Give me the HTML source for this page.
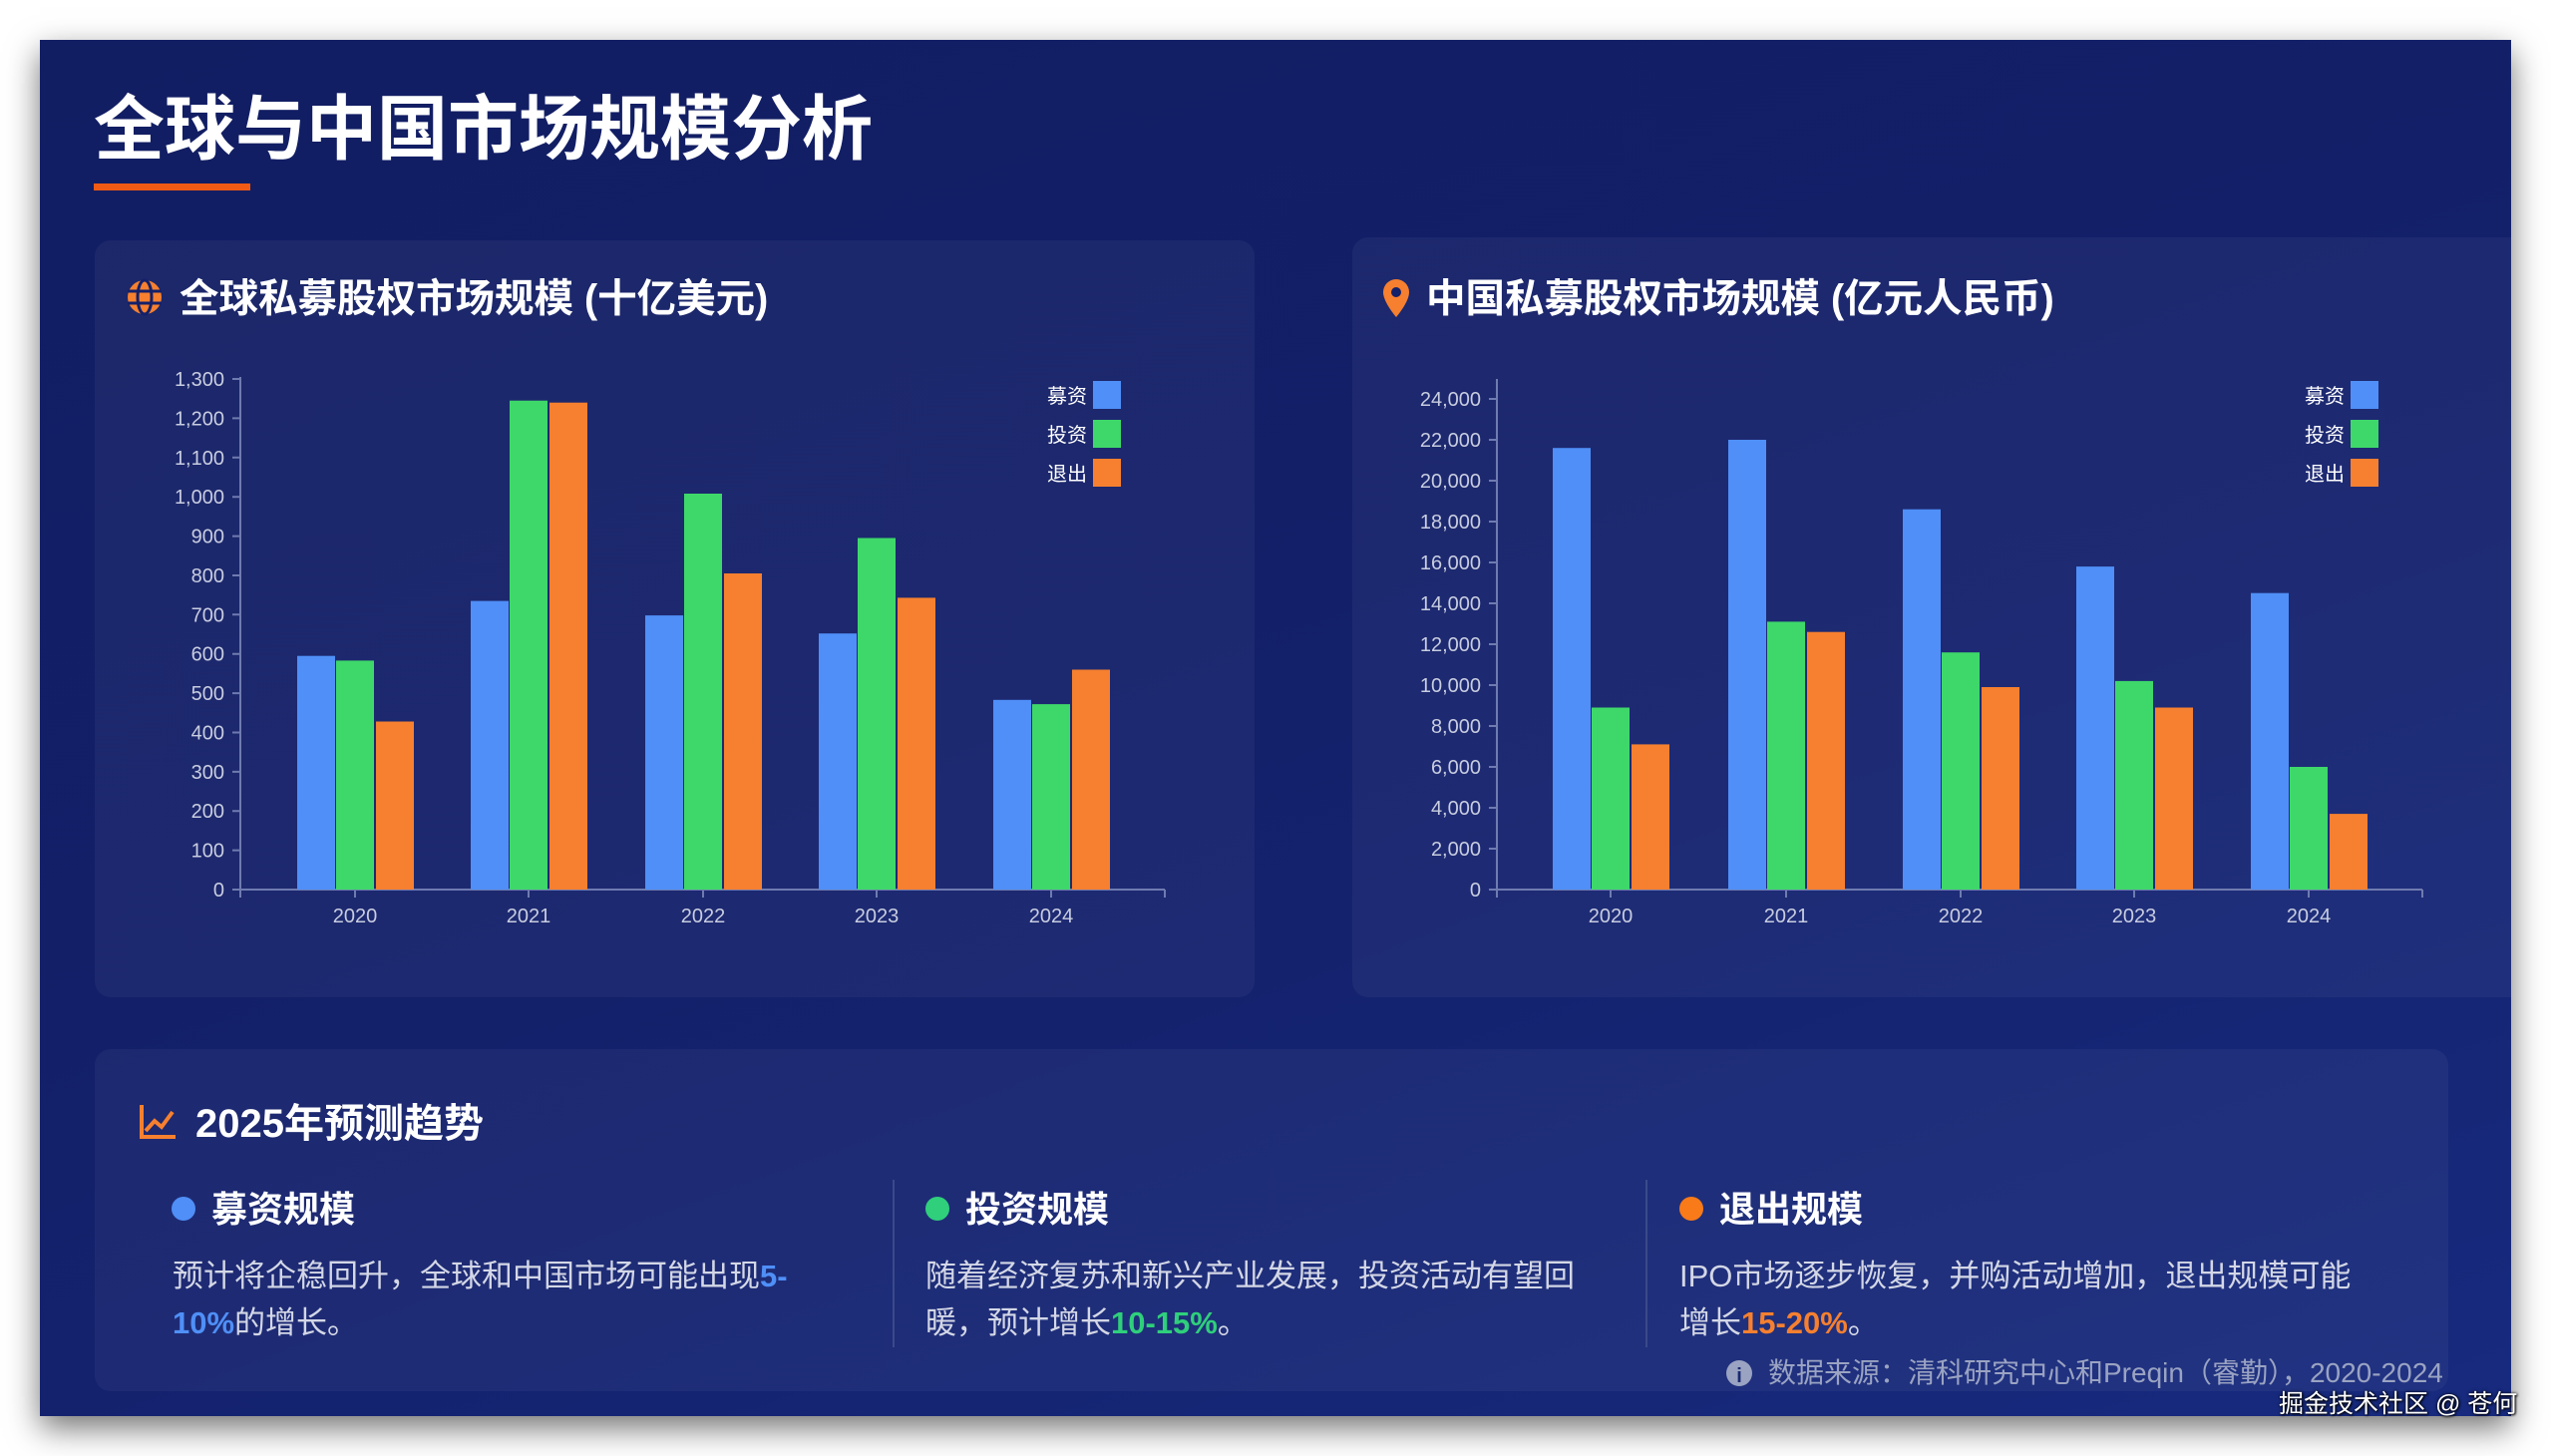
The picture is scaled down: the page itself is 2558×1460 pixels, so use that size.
<!DOCTYPE html>
<html><head><meta charset="utf-8">
<style>
html,body{margin:0;padding:0;width:2558px;height:1460px;background:#fff;overflow:hidden;}
body{font-family:"Liberation Sans","Noto Sans CJK SC",sans-serif;position:relative;}
.slide{position:absolute;left:40px;top:40px;width:2478px;height:1380px;background:linear-gradient(160deg,#121e62 0%,#13206a 50%,#172a7e 100%);box-shadow:0 12px 30px rgba(0,0,0,0.55);overflow:hidden;}
.card{position:absolute;background:rgba(255,255,255,0.045);border-radius:16px;}
.t{position:absolute;white-space:nowrap;color:#fff;font-weight:bold;}
.body{position:absolute;color:#d3d7e6;font-size:31px;line-height:47px;}
</style></head><body>
<div class="slide">
  <div class="card" style="left:55px;top:201px;width:1163px;height:759px;"></div>
  <div class="card" style="left:1316px;top:198px;width:1200px;height:762px;"></div>
  <div class="card" style="left:55px;top:1012px;width:2360px;height:343px;"></div>
</div>
<div class="t" style="left:94px;top:90px;font-size:71px;line-height:82px;">全球与中国市场规模分析</div>
<div style="position:absolute;left:94px;top:184px;width:157px;height:7px;background:#f05a14;"></div>

<div class="t" style="left:180px;top:277px;font-size:39.5px;line-height:46px;">全球私募股权市场规模 (十亿美元)</div>
<div class="t" style="left:1430px;top:277px;font-size:39.5px;line-height:46px;">中国私募股权市场规模 (亿元人民币)</div>
<div class="t" style="left:196px;top:1104px;font-size:40px;line-height:46px;">2025年预测趋势</div>

<div class="t" style="left:212px;top:1191px;font-size:36px;line-height:44px;">募资规模</div>
<div class="t" style="left:968px;top:1191px;font-size:36px;line-height:44px;">投资规模</div>
<div class="t" style="left:1724px;top:1191px;font-size:36px;line-height:44px;">退出规模</div>
<div class="body" style="left:173px;top:1256px;width:680px;">预计将企稳回升，全球和中国市场可能出现<span style="color:#4f8ff7;font-weight:bold">5-<br>10%</span>的增长。</div>
<div class="body" style="left:928px;top:1256px;width:700px;">随着经济复苏和新兴产业发展，投资活动有望回<br>暖，预计增长<span style="color:#2fcf7b;font-weight:bold">10-15%</span>。</div>
<div class="body" style="left:1684px;top:1256px;width:720px;">IPO市场逐步恢复，并购活动增加，退出规模可能<br>增长<span style="color:#f6802f;font-weight:bold">15-20%</span>。</div>
<div style="position:absolute;left:1773px;top:1360px;color:#9aa3c2;font-size:28px;line-height:34px;white-space:nowrap;">数据来源：清科研究中心和Preqin（睿勤），2020-2024</div>
<div style="position:absolute;left:2285px;top:1393px;color:#fff;font-size:25px;line-height:30px;white-space:nowrap;text-shadow:0 0 3px #000,1px 1px 2px #000;">掘金技术社区 @ 苍何</div>

<svg width="2558" height="1460" style="position:absolute;left:0;top:0;" xmlns="http://www.w3.org/2000/svg" font-family="Liberation Sans, Noto Sans CJK SC, sans-serif">
<g fill="none" stroke="#f6802f" stroke-width="4">
 <circle cx="145" cy="298" r="17" fill="#f6802f" stroke="none"/>
 <ellipse cx="145" cy="298" rx="7" ry="17" stroke="#13206a" stroke-width="3"/>
 <line x1="128" y1="292" x2="162" y2="292" stroke="#13206a" stroke-width="3"/>
 <line x1="128" y1="304" x2="162" y2="304" stroke="#13206a" stroke-width="3"/>
</g>
<path d="M1400 280 a13 13 0 0 1 13 13 c0 10 -13 25 -13 25 c0 0 -13 -15 -13 -25 a13 13 0 0 1 13 -13z" fill="#f6802f"/>
<circle cx="1400" cy="293" r="5" fill="#13206a"/>
<path d="M142 1108 v32 h34 M146 1134 l9 -10 l7 6 l11 -15" fill="none" stroke="#f6802f" stroke-width="4"/>
<circle cx="184" cy="1212" r="12" fill="#4f8ff7"/>
<circle cx="940" cy="1212" r="12" fill="#2fcf7b"/>
<circle cx="1696" cy="1212" r="12" fill="#f87a18"/>
<line x1="896" y1="1183" x2="896" y2="1351" stroke="#3a4a8a" stroke-width="2"/>
<line x1="1651" y1="1183" x2="1651" y2="1351" stroke="#3a4a8a" stroke-width="2"/>
<circle cx="1744" cy="1377" r="13" fill="#9aa3c2"/>
<text x="1744" y="1386" font-size="20" font-weight="bold" fill="#1a2a70" text-anchor="middle">i</text>

<g stroke="#6f7bb0" stroke-width="2">
 <line x1="241" y1="378" x2="241" y2="900"/>
 <line x1="241" y1="892" x2="1168" y2="892"/>
 <line x1="1168" y1="892" x2="1168" y2="900"/>
 <path d="M233 892h8M233 852.6h8M233 813.2h8M233 773.9h8M233 734.5h8M233 695.1h8M233 655.7h8M233 616.3h8M233 577h8M233 537.6h8M233 498.2h8M233 458.8h8M233 419.4h8M233 380h8"/>
 <path d="M356 892v8M530 892v8M705 892v8M879 892v8M1054 892v8"/>
</g>
<g fill="#c8cde0" font-size="20" text-anchor="end">
 <text x="225" y="899">0</text><text x="225" y="859.6">100</text><text x="225" y="820.2">200</text><text x="225" y="780.9">300</text><text x="225" y="741.5">400</text><text x="225" y="702.1">500</text><text x="225" y="662.7">600</text><text x="225" y="623.3">700</text><text x="225" y="584">800</text><text x="225" y="544.6">900</text><text x="225" y="505.2">1,000</text><text x="225" y="465.8">1,100</text><text x="225" y="426.4">1,200</text><text x="225" y="387">1,300</text>
</g>
<g fill="#c8cde0" font-size="20" text-anchor="middle">
 <text x="356" y="925">2020</text><text x="530" y="925">2021</text><text x="705" y="925">2022</text><text x="879" y="925">2023</text><text x="1054" y="925">2024</text>
</g>
<g fill="#4f8ff7">
 <rect x="298" y="657.7" width="38" height="234.3"/><rect x="472" y="602.6" width="38" height="289.4"/><rect x="647" y="617.1" width="38" height="274.9"/><rect x="821" y="635.2" width="38" height="256.8"/><rect x="996" y="701.8" width="38" height="190.2"/>
</g>
<g fill="#3ed86a">
 <rect x="337" y="662.4" width="38" height="229.6"/><rect x="511" y="401.7" width="38" height="490.3"/><rect x="686" y="495" width="38" height="397"/><rect x="860" y="539.5" width="38" height="352.5"/><rect x="1035" y="706.1" width="38" height="185.9"/>
</g>
<g fill="#f6802f">
 <rect x="377" y="723.5" width="38" height="168.5"/><rect x="551" y="403.7" width="38" height="488.3"/><rect x="726" y="575" width="38" height="317"/><rect x="900" y="599.4" width="38" height="292.6"/><rect x="1075" y="671.5" width="38" height="220.5"/>
</g>
<rect x="1096" y="382" width="28" height="28" fill="#4f8ff7"/>
<rect x="1096" y="421" width="28" height="28" fill="#3ed86a"/>
<rect x="1096" y="460" width="28" height="28" fill="#f6802f"/>
<g fill="#fff" font-size="20" text-anchor="end">
 <text x="1090" y="404">募资</text><text x="1090" y="443">投资</text><text x="1090" y="482">退出</text>
</g>

<g stroke="#6f7bb0" stroke-width="2">
 <line x1="1501" y1="380" x2="1501" y2="900"/>
 <line x1="1501" y1="892" x2="2429" y2="892"/>
 <line x1="2429" y1="892" x2="2429" y2="900"/>
 <path d="M1493 892h8M1493 851h8M1493 810h8M1493 769h8M1493 728h8M1493 687h8M1493 646h8M1493 605h8M1493 564h8M1493 523h8M1493 482h8M1493 441h8M1493 400h8"/>
 <path d="M1615 892v8M1791 892v8M1966 892v8M2140 892v8M2315 892v8"/>
</g>
<g fill="#c8cde0" font-size="20" text-anchor="end">
 <text x="1485" y="899">0</text><text x="1485" y="858">2,000</text><text x="1485" y="817">4,000</text><text x="1485" y="776">6,000</text><text x="1485" y="735">8,000</text><text x="1485" y="694">10,000</text><text x="1485" y="653">12,000</text><text x="1485" y="612">14,000</text><text x="1485" y="571">16,000</text><text x="1485" y="530">18,000</text><text x="1485" y="489">20,000</text><text x="1485" y="448">22,000</text><text x="1485" y="407">24,000</text>
</g>
<g fill="#c8cde0" font-size="20" text-anchor="middle">
 <text x="1615" y="925">2020</text><text x="1791" y="925">2021</text><text x="1966" y="925">2022</text><text x="2140" y="925">2023</text><text x="2315" y="925">2024</text>
</g>
<g fill="#4f8ff7">
 <rect x="1557" y="449.2" width="38" height="442.8"/><rect x="1733" y="441" width="38" height="451"/><rect x="1908" y="510.7" width="38" height="381.3"/><rect x="2082" y="568.1" width="38" height="323.9"/><rect x="2257" y="594.7" width="38" height="297.3"/>
</g>
<g fill="#3ed86a">
 <rect x="1596" y="709.5" width="38" height="182.5"/><rect x="1772" y="623.4" width="38" height="268.6"/><rect x="1947" y="654.2" width="38" height="237.8"/><rect x="2121" y="682.9" width="38" height="209.1"/><rect x="2296" y="769" width="38" height="123"/>
</g>
<g fill="#f6802f">
 <rect x="1636" y="746.4" width="38" height="145.6"/><rect x="1812" y="633.7" width="38" height="258.3"/><rect x="1987" y="689" width="38" height="203"/><rect x="2161" y="709.5" width="38" height="182.5"/><rect x="2336" y="816.1" width="38" height="75.9"/>
</g>
<rect x="2357" y="382" width="28" height="28" fill="#4f8ff7"/>
<rect x="2357" y="421" width="28" height="28" fill="#3ed86a"/>
<rect x="2357" y="460" width="28" height="28" fill="#f6802f"/>
<g fill="#fff" font-size="20" text-anchor="end">
 <text x="2351" y="404">募资</text><text x="2351" y="443">投资</text><text x="2351" y="482">退出</text>
</g>
</svg>
</body></html>
